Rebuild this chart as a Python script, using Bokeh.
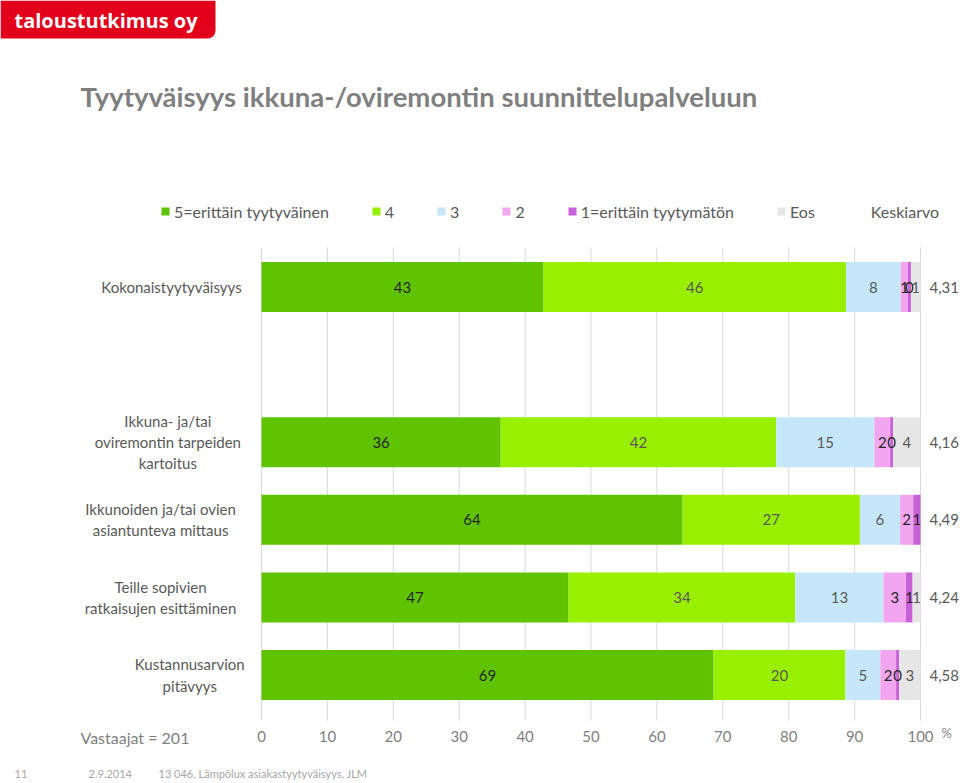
from bokeh.plotting import figure
from bokeh.models import (Range1d, ColumnDataSource, Legend, LegendItem, Label, BoxAnnotation)
from bokeh.embed import file_html
from bokeh.resources import INLINE
from bokeh.core.properties import value

# ---------------- data ----------------
categories = [
    "Kokonaistyytyväisyys",
    "Ikkuna- ja/tai\noviremontin tarpeiden\nkartoitus",
    "Ikkunoiden ja/tai ovien\nasiantunteva mittaus",
    "Teille sopivien\nratkaisujen esittäminen",
    "Kustannusarvion\npitävyys",
]
series_names = ["5=erittäin tyytyväinen", "4", "3", "2", "1=erittäin tyytymätön", "Eos"]
v5 = [42.8, 36.3, 63.9, 46.6, 68.6]
v4 = [45.9, 41.8, 26.9, 34.4, 20.0]
v3 = [8.3, 14.9, 6.1, 13.4, 5.3]
v2 = [1.1, 2.4, 2.0, 3.4, 2.4]
v1 = [0.45, 0.45, 1.1, 1.0, 0.45]
veos = [1.45, 4.15, 0.0, 1.2, 3.25]
keskiarvo = [4.31, 4.16, 4.49, 4.24, 4.58]
x_ticks = [0, 10, 20, 30, 40, 50, 60, 70, 80, 90, 100]
x_tick_labels = [str(t) for t in x_ticks]
respondents = 201

title_text = "Tyytyväisyys ikkuna-/oviremontin suunnittelupalveluun"
footer_page = "11"
footer_date = "2.9.2014"
footer_src = "13 046, Lämpölux asiakastyytyväisyys, JLM"

# ---------------- style / layout ----------------
colors = ["#5fc300", "#99ef00", "#c6e7fa", "#f2a6f0", "#c860d8", "#e6e6e6"]
label_colors = ["#262626", "#595959", "#595959", "#262626", "#262626", "#595959"]
FONT = "Lato"
W, H = 960, 783
ZERO_PX, HUNDRED_PX = 261, 920       # page x of 0 % and 100 %
PLOT_TOP, PLOT_BOTTOM = 247, 720      # page y of the plot area
KX = (HUNDRED_PX - ZERO_PX) / 100.0
ROW0_PX, KY = 674.5, 77.6            # page y of the lowest row, px per row


def X(px):
    return (px - ZERO_PX) / KX


def Y(py):
    return (ROW0_PX - py) / KY


n = len(categories)
# first row on top, one empty slot below it, then the rest
slots = [n] + list(range(n - 2, -1, -1))

keys = ["s5", "s4", "s3", "s2", "s1", "eos"]
series = [v5, v4, v3, v2, v1, veos]
src = ColumnDataSource(dict(slot=slots, **{k: s for k, s in zip(keys, series)}))

p = figure(width=W, height=H, output_backend="svg", toolbar_location=None,
           x_range=Range1d(X(0), X(W)), y_range=Range1d(Y(H), Y(0)),
           x_axis_location=None, y_axis_location=None,
           min_border=0, min_border_left=0, min_border_right=0,
           min_border_top=0, min_border_bottom=0)
p.outline_line_color = None
p.background_fill_color = "white"
p.grid.visible = False

# vertical gridlines at the ticks
p.segment(x0=x_ticks, x1=x_ticks, y0=[Y(PLOT_BOTTOM)] * len(x_ticks),
          y1=[Y(PLOT_TOP)] * len(x_ticks), line_color="#d9d9d9", line_width=1)

bar_h = 50 / KY
rends = p.hbar_stack(keys, y="slot", height=bar_h, color=colors, line_color=None,
                     source=src)

# segment labels
lx, ly, lt, lc = [], [], [], []
for i in range(n):
    left = 0.0
    for k, s in enumerate(series):
        val = s[i]
        if val > 0:
            lx.append(left + val / 2.0)
            ly.append(slots[i])
            lt.append(str(int(round(val))))
            lc.append(label_colors[k])
        left += val
p.text(x=lx, y=ly, text=lt, text_color=lc, text_align="center", text_baseline="middle",
       text_font=value(FONT), text_font_size="15px")

# category labels: lines centred in a block right-aligned at the plot edge
cx = []
for c in categories:
    longest = max(len(line) for line in c.split("\n"))
    cx.append(X(244 - longest * 7.3 / 2.0))
p.text(x=cx, y=slots, text=categories, text_align="center", text_baseline="middle",
       text_font=value(FONT), text_font_size="15px", text_color="#595959",
       text_line_height=1.17)

# keskiarvo labels
p.text(x=[X(929)] * n, y=slots,
       text=[f"{k:.2f}".replace(".", ",") for k in keskiarvo],
       text_align="left", text_baseline="middle", text_font=value(FONT),
       text_font_size="15px", text_color="#595959")

# x tick labels
p.text(x=x_ticks, y=[Y(736)] * len(x_ticks), text=x_tick_labels, text_align="center",
       text_baseline="middle", text_font=value(FONT), text_font_size="15px",
       text_color="#7f7f7f")

# legend
dummy = p.hbar(y=[], right=[], height=0.1, fill_alpha=0, line_alpha=0)
items = [LegendItem(label=nm, renderers=[r]) for nm, r in zip(series_names, rends)]
items.append(LegendItem(label="Keskiarvo", renderers=[dummy]))
legend = Legend(items=items, orientation="horizontal",
                location=(160, H - 211 - 10),
                glyph_width=10, glyph_height=10, label_height=20, label_width=0,
                label_standoff=4, spacing=42, padding=0, margin=0,
                border_line_color=None, background_fill_alpha=0, label_text_font=FONT,
                label_text_font_size="16px", label_text_color="#595959")
p.add_layout(legend)

# title
p.add_layout(Label(x=X(80), y=Y(96), text=title_text, text_font=FONT,
                   text_font_style="bold", text_font_size="27.5px", text_color="#7f7f7f",
                   text_baseline="middle"))

# logo
p.add_layout(BoxAnnotation(left=X(0), right=X(215), top=Y(0), bottom=Y(38),
                           fill_color="#e2001a", fill_alpha=1.0, line_alpha=0,
                           border_radius=(0, 0, 8, 0), level="underlay"))
p.add_layout(Label(x=X(14), y=Y(20), text="taloustutkimus oy", text_font="Open Sans",
                   text_font_style="bold", text_font_size="20px", text_color="white",
                   text_baseline="middle"))

# bottom texts
p.add_layout(Label(x=X(80), y=Y(737), text=f"Vastaajat = {respondents}", text_font=FONT,
                   text_font_size="16px", text_color="#7f7f7f", text_baseline="middle"))
p.add_layout(Label(x=X(941), y=Y(732), text="%", text_font=FONT,
                   text_font_size="13px", text_color="#7f7f7f", text_baseline="middle"))
for px, t in [(14, footer_page), (88, footer_date), (158, footer_src)]:
    p.add_layout(Label(x=X(px), y=Y(773), text=t, text_font=FONT, text_font_size="11px",
                       text_color="#a6a6a6", text_baseline="middle"))

open("out.html", "w").write(file_html(p, INLINE))
